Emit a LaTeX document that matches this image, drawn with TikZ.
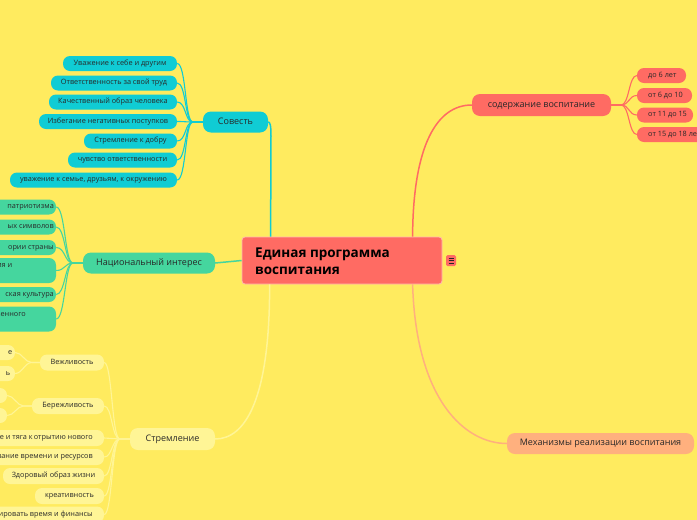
\documentclass[tikz,border=0pt]{standalone}
\usepackage{fontspec}
\setmainfont{Open Sans}
\usetikzlibrary{calc}
\definecolor{bg}{RGB}{255,235,95}
\definecolor{cred}{RGB}{255,107,99}
\definecolor{cborder}{RGB}{255,185,175}
\definecolor{ccyan}{RGB}{16,204,212}
\definecolor{cgreen}{RGB}{69,214,158}
\definecolor{cpale}{RGB}{255,245,150}
\definecolor{csalmon}{RGB}{255,176,126}
\definecolor{txtc}{RGB}{40,40,40}
\begin{document}
\begin{tikzpicture}[x=1pt,y=-1pt,
  kidbox/.style={rounded corners=7pt, inner sep=0pt, minimum height=15,
    font=\fontsize{7.3}{8}\selectfont, text=txtc, text height=5.4pt, text depth=1.6pt},
  kidtxt/.style={inner sep=0pt, font=\fontsize{7.3}{8}\selectfont, text=txtc,
    text height=5.4pt, text depth=1.6pt},
  topbox/.style={rounded corners=8pt, inner sep=0pt,
    font=\fontsize{9}{10}\selectfont, text=txtc, text height=6.8pt, text depth=2pt},
  cyankid/.style={kidbox, fill=ccyan},
  greenkid/.style={kidbox, fill=cgreen},
  palekid/.style={kidbox, fill=cpale},
  redkid/.style={kidbox, fill=cred},
  cyanline/.style={draw=ccyan, line width=1.1pt},
  greenline/.style={draw=cgreen, line width=1.1pt},
  paleline/.style={draw=cpale, line width=1.1pt},
  redline/.style={draw=cred, line width=1.1pt},
]
\useasboundingbox (0,0) rectangle (697,520);
\clip (0,0) rectangle (697,520);
\fill[bg] (0,0) rectangle (697,520);

% ---------- centre ----------
\node[draw=cborder, line width=0.8pt, fill=cred, rounded corners=3pt,
  minimum width=200, minimum height=47, inner sep=0pt] (c) at (342,260.5) {};
\node[anchor=north west, align=left, inner sep=0pt,
  font=\fontsize{13.5}{17}\selectfont\bfseries, text=black] (ct) at (255,247.5)
  {Единая программа\\воспитания};
\node[fill=cred, rounded corners=1.5pt, minimum width=10, minimum height=11,
  inner sep=0pt] (menu) at (451,260.5) {};
\draw[txtc, line width=0.6pt] (448.5,257.8) -- (453.5,257.8)
  (448.5,260.5) -- (453.5,260.5) (448.5,263.2) -- (453.5,263.2);

% ---------- Совесть ----------
\node[topbox, fill=ccyan, minimum width=65, minimum height=21] (sov) at (235.5,122) {Совесть};
\node[cyankid, minimum width=114] (s1) at (120,63.5) {Уважение к себе и другим};
\node[cyankid, minimum width=126] (s2) at (114,83) {Ответственность за свой труд};
\node[cyankid, minimum width=128] (s3) at (113,102) {Качественный образ человека};
\node[cyankid, minimum width=138] (s4) at (108,121.5) {Избегание негативных поступков};
\node[cyankid, minimum width=93] (s5) at (130.5,141) {Стремление к добру};
\node[cyankid, minimum width=109] (s6) at (122.5,160) {чувство ответственности};
\node[cyankid, minimum width=167] (s7) at (93.5,180) {уважение к семье, друзьям, к окружению};

\draw[ccyan, line width=1.5pt] ([xshift=29pt]c.north west) -- (271,136)
  .. controls (271,125) and (270,122) .. (sov.east);
\foreach \k in {s1,s2,s3,s4,s5,s6,s7}
  \draw[cyanline] (sov.west) -- ++(-10,0) .. controls +(-8,0) and +(9,0) .. (\k.east);

% ---------- Национальный интерес ----------
\node[topbox, fill=cgreen, minimum width=132, minimum height=21] (nat) at (149,263) {Национальный интерес};
\node[greenkid, minimum width=96] (n1) at (8,207) {};
\node[greenkid, minimum width=96] (n2) at (8,227) {};
\node[greenkid, minimum width=96] (n3) at (8,247.5) {};
\node[greenkid, minimum width=96, minimum height=25] (n4) at (8,270.5) {};
\node[greenkid, minimum width=96] (n5) at (8,294.5) {};
\node[greenkid, minimum width=96, minimum height=25] (n6) at (8,319) {};
\node[kidtxt, anchor=east] (n1t) at (54,207) {патриотизма};
\node[kidtxt, anchor=east] (n2t) at (54,227) {ых символов};
\node[kidtxt, anchor=east] (n3t) at (54,247.5) {ории страны};
\node[kidtxt, anchor=east] (n4t) at (12.5,266) {ия и};
\node[kidtxt, anchor=east] (n5t) at (54,294.5) {ская культура};
\node[kidtxt, anchor=east] (n6t) at (26,315) {венного};

\draw[cgreen, line width=1.5pt] (c.west) -- (nat.east);
\foreach \k in {n1,n2,n3,n4,n5,n6}
  \draw[greenline] (nat.west) -- ++(-10,0) .. controls +(-8,0) and +(9,0) .. (\k.east);

% ---------- Стремление ----------
\node[topbox, fill=cpale, minimum width=85, minimum height=22] (str) at (172.5,439) {Стремление};
\node[palekid, minimum width=64, minimum height=16] (v) at (72,362.5) {Вежливость};
\node[palekid, minimum width=72, minimum height=16] (b) at (68,406) {Бережливость};
\node[palekid, minimum width=130, minimum height=16] (t1) at (39,438) {};
\node[palekid, minimum width=130, minimum height=16] (t2) at (39,457) {};
\node[palekid, minimum width=101, minimum height=16] (z) at (53.5,476) {Здоровый образ жизни};
\node[palekid, minimum width=69, minimum height=16] (kr) at (69.5,496) {креативность};
\node[palekid, minimum width=130, minimum height=16] (t3) at (39,514.5) {};
\node[kidtxt, anchor=east] (t1t) at (93,438) {е и тяга к\,отрытию нового};
\node[kidtxt, anchor=east] (t2t) at (93,457) {вание времени и ресурсов};
\node[kidtxt, anchor=east] (t3t) at (93,514.5) {ировать время и финансы};

\node[palekid, minimum width=60] (v1) at (-15,352.5) {};
\node[palekid, minimum width=60] (v2) at (-15,373.5) {};
\node[kidtxt, anchor=east] (v1t) at (12.5,352.5) {е};
\node[kidtxt, anchor=east] (v2t) at (10.5,373.5) {ь};
\node[palekid, minimum width=60] (b1) at (-23,395.5) {};
\node[palekid, minimum width=60] (b2) at (-23,415.5) {};

\draw[cpale, line width=1.5pt] ([xshift=28pt]c.south west)
  .. controls (270,400) and (245,439) .. (str.east);
\foreach \k in {v,b,t1,t2,z,kr,t3}
  \draw[paleline] (str.west) -- ++(-10,0) .. controls +(-8,0) and +(8,0) .. (\k.east);
\foreach \k in {v1,v2}
  \draw[paleline] (v.west) -- ++(-8,0) .. controls +(-7,0) and +(7,0) .. (\k.east);
\foreach \k in {b1,b2}
  \draw[paleline] (b.west) -- ++(-8,0) .. controls +(-7,0) and +(7,0) .. (\k.east);

% ---------- содержание воспитание ----------
\node[topbox, fill=cred, minimum width=139, minimum height=22] (sod) at (541.5,105) {содержание воспитание};
\node[redkid, minimum width=49] (d1) at (661.5,75.5) {};
\node[redkid, minimum width=55] (d2) at (664.5,95.5) {};
\node[redkid, minimum width=56] (d3) at (665,115) {};
\node[redkid, minimum width=83] (d4) at (678.5,134.5) {};
\node[kidtxt, anchor=west] (d1t) at (648,75.5) {до 6 лет};
\node[kidtxt, anchor=west] (d2t) at (648,95.5) {от 6 до 10};
\node[kidtxt, anchor=west] (d3t) at (648,115) {от 11 до 15};
\node[kidtxt, anchor=west] (d4t) at (648,134.5) {от 15 до 18 лет};

\draw[cred, line width=1.5pt] ([xshift=171pt]c.north west)
  .. controls (413,145) and (437,105) .. (sod.west);
\foreach \k in {d1,d2,d3,d4}
  \draw[redline] (sod.east) -- ++(10,0) .. controls +(8,0) and +(-8,0) .. (\k.west);

% ---------- Механизмы ----------
\node[topbox, fill=csalmon, minimum width=187, minimum height=21] (mex) at (600.5,443.5) {Механизмы реализации воспитания};
\draw[csalmon, line width=1.5pt] ([xshift=171pt]c.south west)
  .. controls (416,400) and (465,443.5) .. (mex.west);
\end{tikzpicture}
\end{document}
